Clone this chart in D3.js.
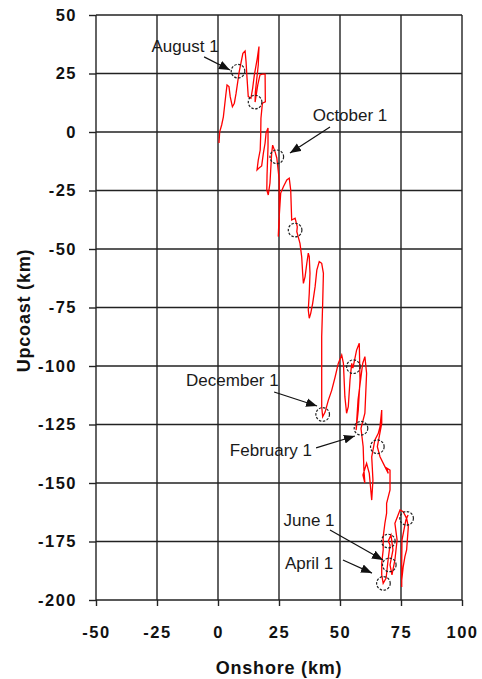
<!DOCTYPE html>
<html>
<head>
<meta charset="utf-8">
<script src="https://cdn.jsdelivr.net/npm/d3@7"></script>
<style>
body { margin: 0; background: #fff; }
text { font-family: Arial, "Liberation Sans", sans-serif; }
</style>
</head>
<body>
<svg id="chart" width="482" height="679"></svg>
<script>
// drifter track, onshore (km) / upcoast (km)
var trackX = [0.4,0.7,1.5,2.2,3.2,3.7,4.5,5.0,5.9,6.7,7.4,8.1,8.7,9.4,10.2,11.1,11.5,11.9,12.4,13.5,
  14.2,14.9,15.5,16.1,16.8,16.5,15.3,15.2,16.3,17.2,18.2,19.3,19.4,18.2,17.6,17.5,17.3,16.5,16.0,16.8,
  17.9,18.6,19.3,19.7,20.5,20.5,20.1,20.0,20.6,21.3,22.0,22.4,23.4,24.1,25.1,25.1,25.1,24.7,25.0,25.7,
  26.8,28.2,29.2,29.8,30.2,31.6,32.5,32.3,33.6,34.3,34.7,35.0,35.7,36.4,37.0,37.4,37.7,37.4,37.0,37.4,
  38.0,38.8,39.8,40.5,41.5,42.5,43.2,42.9,42.5,42.5,42.5,42.5,42.9,43.9,45.2,46.6,48.0,49.3,50.7,51.4,
  52.0,52.7,53.4,54.1,54.8,55.3,56.8,57.9,58.2,57.5,56.6,57.4,59.3,60.2,60.9,60.2,58.6,59.5,59.8,60.2,
  59.4,60.9,62.0,63.0,63.5,63.0,64.3,65.7,66.4,67.1,67.1,65.3,66.4,68.4,69.8,69.1,70.5,70.5,69.1,69.1,
  68.4,67.7,67.7,67.1,67.1,67.7,68.9,69.7,70.5,69.8,70.9,71.7,70.5,71.3,72.5,73.4,72.5,74.6,75.9,77.3,
  78.0,77.3,76.6,75.9,75.3,75.3,75.3,75.4,77.0,77.9];
var trackY = [-4.7,0.1,3.0,6.5,15.8,20.1,19.4,15.1,10.8,12.3,16.5,21.5,25.8,29.4,33.6,34.6,30.0,23.0,15.1,14.4,
  18.7,24.4,27.9,31.5,36.5,28.6,17.0,12.8,20.1,24.4,24.7,24.7,12.9,12.3,5.9,-1.3,-7.7,-12.0,-16.2,-15.4,
  -14.5,-9.0,-4.7,-0.4,1.7,-6.3,-18.4,-24.8,-26.9,-21.8,-9.0,-5.6,-8.5,-11.1,-20.5,-33.3,-38.9,-44.7,-37.6,-26.1,
  -23.4,-20.5,-19.7,-24.8,-37.6,-36.8,-40.5,-42.6,-47.6,-53.3,-60.4,-64.7,-61.8,-56.1,-51.8,-53.3,-60.4,-68.9,-76.1,-79.6,
  -77.5,-73.2,-66.1,-59.0,-55.4,-56.1,-60.4,-73.2,-87.5,-101.7,-112.4,-117.4,-121.7,-119.7,-114.7,-110.4,-104.7,-98.9,-95.3,-98.9,
  -113.1,-120.2,-117.4,-106.0,-98.9,-100.9,-93.2,-90.3,-106.0,-118.8,-127.4,-114.5,-98.9,-96.0,-103.1,-120.2,-126.6,-134.5,-144.5,-150.0,
  -146.6,-141.6,-145.9,-157.3,-148.7,-138.8,-131.6,-128.8,-125.9,-118.8,-124.5,-134.5,-138.8,-143.0,-145.9,-143.6,-144.5,-153.0,-158.7,-162.9,
  -167.2,-173.0,-178.6,-184.3,-189.3,-192.9,-190.6,-182.9,-176.5,-174.8,-172.2,-178.6,-185.0,-189.3,-182.9,-174.4,-167.2,-161.5,-162.3,-165.1,
  -168.7,-178.6,-181.5,-185.8,-191.5,-194.4,-182.9,-174.4,-165.8,-163.7];

// monthly positions (circles)
var markX = [8.2, 15.2, 24.1, 31.6, 42.9, 55.5, 58.6, 65.3, 67.8, 69.8, 70.2, 77.3];
var markY = [26.0, 12.8, -10.6, -41.9, -120.7, -100.3, -126.6, -134.5, -192.9, -174.8, -185.0, -165.1];

var xTicks = [-50, -25, 0, 25, 50, 75, 100];
var yTicks = [50, 25, 0, -25, -50, -75, -100, -125, -150, -175, -200];

// annotations: label, label centre, arrow tail, arrow head (data units)
var noteText = ["August 1", "October 1", "December 1", "February 1", "June 1", "April 1"];
var noteX = [-13.5, 54.1, 5.9, 21.7, 37.3, 37.3];
var noteY = [36.8, 7.3, -106.0, -135.9, -165.8, -184.2];
var tailX = [-5.7, 45.9, 23.0, 40.2, 45.9, 51.2];
var tailY = [32.1, 2.1, -111.1, -135.0, -170.1, -182.9];
var headX = [4.9, 29.5, 40.6, 56.1, 67.6, 63.1];
var headY = [26.5, -9.0, -117.1, -129.9, -182.9, -188.5];

var svg = d3.select('#chart');
var pLeft = 96, pRight = 462, pTop = 15, pBottom = 600;

var x = d3.scaleLinear().domain([-50, 100]).range([pLeft, pRight]);
var y = d3.scaleLinear().domain([-200, 50]).range([pBottom, pTop]);

// grid
svg.append('g').selectAll('line').data(xTicks).enter().append('line')
  .attr('x1', function(d) { return x(d); }).attr('x2', function(d) { return x(d); })
  .attr('y1', pTop).attr('y2', pBottom)
  .attr('stroke', '#222').attr('stroke-width', 1.4);
svg.append('g').selectAll('line').data(yTicks).enter().append('line')
  .attr('y1', function(d) { return y(d); }).attr('y2', function(d) { return y(d); })
  .attr('x1', pLeft).attr('x2', pRight)
  .attr('stroke', '#222').attr('stroke-width', 1.4);

// axes
var fmt = function(d) { return String(d); };
var xAxis = svg.append('g').attr('transform', 'translate(0,' + pBottom + ')')
  .call(d3.axisBottom(x).tickValues(xTicks).tickFormat(fmt).tickSize(6).tickPadding(20));
var yAxis = svg.append('g').attr('transform', 'translate(' + pLeft + ',0)')
  .call(d3.axisLeft(y).tickValues(yTicks).tickFormat(fmt).tickSize(7).tickPadding(12));
[xAxis, yAxis].forEach(function(a) {
  a.select('.domain').remove();
  a.selectAll('line').attr('stroke', '#222').attr('stroke-width', 1.4);
  a.selectAll('text').attr('font-size', 16.5).attr('font-weight', 'bold')
    .attr('fill', '#111').style('letter-spacing', '1.5px');
});

// track
var pts = trackX.map(function(d, i) { return [d, trackY[i]]; });
svg.append('path').datum(pts)
  .attr('d', d3.line().x(function(d) { return x(d[0]); }).y(function(d) { return y(d[1]); }))
  .attr('fill', 'none').attr('stroke', '#ff0000').attr('stroke-width', 1.3);

// monthly circles
svg.append('g').selectAll('circle').data(markX).enter().append('circle')
  .attr('cx', function(d) { return x(d); })
  .attr('cy', function(d, i) { return y(markY[i]); })
  .attr('r', 6.8)
  .attr('fill', 'none').attr('stroke', '#222').attr('stroke-width', 1.2)
  .attr('stroke-dasharray', '2.5,1.5');

// arrows
svg.append('defs').append('marker')
  .attr('id', 'head').attr('viewBox', '0 0 10 8')
  .attr('refX', 10).attr('refY', 4)
  .attr('markerWidth', 11).attr('markerHeight', 9)
  .attr('markerUnits', 'userSpaceOnUse').attr('orient', 'auto')
  .append('path').attr('d', 'M0,0L10,4L0,8Z').attr('fill', '#111');

svg.append('g').selectAll('line').data(noteText).enter().append('line')
  .attr('x1', function(d, i) { return x(tailX[i]); })
  .attr('y1', function(d, i) { return y(tailY[i]); })
  .attr('x2', function(d, i) { return x(headX[i]); })
  .attr('y2', function(d, i) { return y(headY[i]); })
  .attr('stroke', '#111').attr('stroke-width', 1.2)
  .attr('marker-end', 'url(#head)');

svg.append('g').selectAll('text').data(noteText).enter().append('text')
  .attr('x', function(d, i) { return x(noteX[i]); })
  .attr('y', function(d, i) { return y(noteY[i]); })
  .attr('text-anchor', 'middle').attr('dy', '0.35em')
  .attr('font-size', 17).attr('fill', '#1a1a1a')
  .text(function(d) { return d; });

// axis titles
svg.append('text').attr('x', (pLeft + pRight) / 2).attr('y', 668)
  .attr('text-anchor', 'middle').attr('dy', '0.35em')
  .attr('font-size', 18).attr('font-weight', 'bold').attr('fill', '#111')
  .style('letter-spacing', '0.8px')
  .text('Onshore (km)');
svg.append('text')
  .attr('transform', 'translate(24,' + ((pTop + pBottom) / 2 + 3) + ') rotate(-90)')
  .attr('text-anchor', 'middle').attr('dy', '0.35em')
  .attr('font-size', 18).attr('font-weight', 'bold').attr('fill', '#111')
  .style('letter-spacing', '0.8px')
  .text('Upcoast (km)');
</script>
</body>
</html>
